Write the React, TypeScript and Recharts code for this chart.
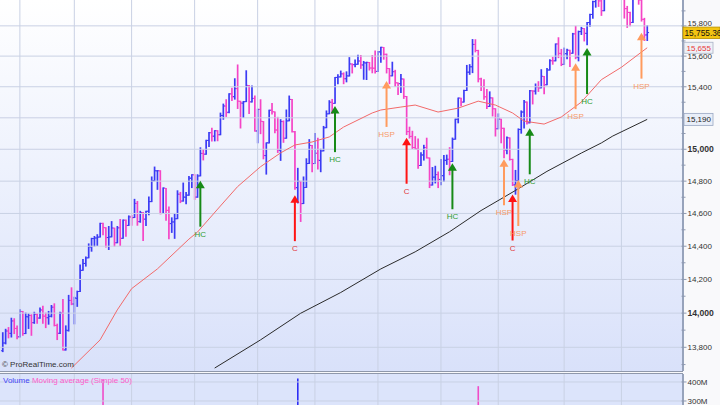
import React from 'react';
import { ComposedChart, Bar, Line, XAxis, YAxis, ReferenceLine, ReferenceDot } from 'recharts';

const FONT = '"Liberation Sans", Arial, Helvetica, sans-serif';
const BLUE = '#3b3bf4';
const PINK = '#f544c6';
const GRID = '#c9d1e4';

// Daily OHLC bars [open, high, low, close], Jan 24 – Dec 13
const JAN = [
  [13780, 13885, 13775, 13825], [13825, 13905, 13820, 13895], [13895, 13915, 13855, 13882],
  [13881, 13970, 13860, 13954], [13954, 13967, 13880, 13910], [13910, 13925, 13850, 13861],
];
const FEB = [
  [13861, 14020, 13860, 14010], [14009, 14010, 13870, 13880], [13880, 14000, 13880, 13979],
  [13978, 13995, 13910, 13986], [13986, 13990, 13870, 13944], [13944, 14005, 13940, 13993],
  [13992, 13995, 13940, 13971], [13971, 14030, 13970, 14019], [14018, 14040, 13940, 13982],
  [13982, 14000, 13915, 13973], [13973, 14010, 13935, 13981], [13982, 14045, 13978, 14035],
  [14035, 14055, 13925, 13928], [13927, 13935, 13845, 13881], [13882, 14005, 13880, 14000],
  [14001, 14080, 13784, 13784], [13785, 13925, 13784, 13900], [13897, 14105, 13895, 14075],
  [14075, 14150, 14050, 14054],
];
const MAR = [
  [14054, 14094, 13937, 14090], [14087, 14130, 14040, 14128], [14128, 14286, 14128, 14254],
  [14255, 14320, 14255, 14296], [14296, 14335, 14280, 14329], [14330, 14414, 14330, 14397],
  [14395, 14448, 14370, 14447], [14446, 14459, 14400, 14450], [14450, 14470, 14405, 14455],
  [14456, 14540, 14456, 14539], [14539, 14540, 14470, 14514], [14512, 14513, 14395, 14452],
  [14453, 14520, 14380, 14456], [14457, 14550, 14457, 14511], [14510, 14510, 14400, 14421],
  [14421, 14520, 14421, 14512], [14512, 14563, 14405, 14448], [14448, 14560, 14448, 14559],
  [14558, 14560, 14460, 14526], [14527, 14585, 14527, 14579],
];
const APR = [
  [14578, 14588, 14528, 14573], [14575, 14687, 14575, 14662], [14662, 14674, 14528, 14550],
  [14550, 14613, 14546, 14606], [14604, 14606, 14434, 14565], [14565, 14614, 14526, 14613],
  [14614, 14701, 14592, 14673], [14673, 14826, 14673, 14802], [14803, 14888, 14802, 14865],
  [14864, 14866, 14749, 14865], [14864, 14865, 14598, 14599], [14600, 14758, 14600, 14757],
  [14755, 14755, 14559, 14619], [14619, 14640, 14445, 14537], [14538, 14573, 14484, 14548],
  [14548, 14600, 14448, 14567], [14568, 14740, 14568, 14719], [14718, 14730, 14667, 14676],
  [14677, 14788, 14676, 14701], [14700, 14730, 14660, 14713], [14713, 14829, 14713, 14819],
  [14818, 14840, 14760, 14840],
];
const MAY = [
  [14839, 14840, 14687, 14701], [14701, 14840, 14700, 14832], [14833, 15009, 14833, 14974],
  [14973, 14996, 14933, 14969], [14969, 15057, 14969, 15056], [15056, 15106, 15017, 15105],
  [15105, 15134, 15052, 15083], [15083, 15118, 15053, 15118], [15117, 15118, 15054, 15092],
  [15092, 15230, 15092, 15215], [15215, 15288, 15191, 15276], [15275, 15316, 15209, 15233],
  [15236, 15355, 15233, 15354], [15354, 15391, 15311, 15335], [15336, 15452, 15320, 15388],
  [15388, 15542, 15260, 15307], [15306, 15306, 15135, 15295], [15294, 15305, 15202, 15303],
  [15304, 15504, 15304, 15409], [15408, 15408, 15227, 15303], [15302, 15405, 15302, 15325],
  [15324, 15340, 15115, 15116],
];
const JUN = [
  [15116, 15255, 15041, 15254], [15253, 15316, 15099, 15178], [15176, 15176, 14940, 14961],
  [14960, 15040, 14844, 15041], [15040, 15249, 15040, 15248], [15250, 15292, 15225, 15239],
  [15238, 15238, 15104, 15122], [15122, 15203, 14980, 14995], [14994, 15188, 14930, 15176],
  [15176, 15180, 15044, 15070], [15070, 15250, 15070, 15180], [15181, 15340, 15181, 15318],
  [15318, 15318, 15110, 15112], [15110, 15112, 14750, 14758], [14760, 14880, 14665, 14799],
  [14797, 14799, 14551, 14660], [14661, 14826, 14661, 14760], [14761, 14940, 14761, 14910],
  [14911, 15061, 14911, 15024], [15024, 15024, 14859, 14910],
];
const JUL = [
  [14910, 15100, 14910, 14975], [14974, 15069, 14876, 14932], [14929, 15000, 14859, 14989],
  [14990, 15145, 14990, 15136], [15137, 15244, 15137, 15225], [15226, 15310, 15226, 15300],
  [15300, 15318, 15228, 15292], [15293, 15461, 15293, 15461], [15460, 15478, 15420, 15464],
  [15464, 15502, 15464, 15484], [15484, 15490, 15420, 15452], [15452, 15497, 15432, 15471],
  [15470, 15590, 15470, 15549], [15548, 15549, 15490, 15544], [15544, 15575, 15531, 15546],
  [15547, 15605, 15546, 15568], [15568, 15604, 15520, 15542], [15542, 15565, 15449, 15556],
  [15555, 15560, 15447, 15559], [15558, 15558, 15509, 15522], [15522, 15604, 15491, 15521],
  [15521, 15634, 15490, 15500],
];
const AUG = [
  [15500, 15630, 15500, 15628], [15628, 15658, 15560, 15658], [15657, 15657, 15580, 15612],
  [15612, 15613, 15490, 15519], [15518, 15518, 15420, 15471], [15471, 15560, 15471, 15498],
  [15498, 15507, 15403, 15426], [15425, 15425, 15350, 15420], [15420, 15480, 15363, 15451],
  [15450, 15450, 15325, 15338], [15337, 15337, 15093, 15112], [15112, 15140, 15071, 15081],
  [15082, 15114, 15005, 15011], [15011, 15080, 15002, 15003], [15001, 15065, 14880, 14898],
  [14898, 14978, 14898, 14964], [14964, 15025, 14932, 15011], [15011, 15070, 14945, 14946],
  [14945, 14945, 14760, 14776], [14776, 14885, 14776, 14825], [14825, 14893, 14789, 14841],
  [14841, 14857, 14760, 14810],
];
const SEP = [
  [14811, 14935, 14777, 14834], [14834, 14960, 14800, 14931], [14930, 14963, 14905, 14937],
  [14937, 15010, 14840, 14923], [14923, 15071, 14923, 15063], [15064, 15192, 15064, 15191],
  [15191, 15327, 15168, 15327], [15326, 15326, 15277, 15301], [15301, 15377, 15301, 15376],
  [15376, 15539, 15376, 15495], [15495, 15544, 15481, 15530], [15530, 15709, 15492, 15677],
  [15677, 15708, 15628, 15637], [15637, 15638, 15432, 15451], [15451, 15455, 15375, 15401],
  [15402, 15445, 15319, 15335], [15335, 15383, 15260, 15273], [15273, 15367, 15273, 15328],
  [15328, 15328, 15212, 15258], [15258, 15258, 15084, 15130],
];
const OCT = [
  [15130, 15225, 15130, 15192], [15191, 15191, 15041, 15133], [15133, 15134, 14946, 14996],
  [14996, 15078, 14972, 15073], [15072, 15072, 14932, 14936], [14936, 14937, 14773, 14777],
  [14777, 14867, 14719, 14803], [14803, 15129, 14803, 15126], [15125, 15244, 15102, 15237],
  [15237, 15311, 15135, 15301], [15301, 15301, 15160, 15168], [15168, 15376, 15168, 15374],
  [15374, 15374, 15289, 15372], [15372, 15418, 15353, 15400], [15399, 15433, 15370, 15392],
  [15393, 15511, 15393, 15468], [15467, 15467, 15354, 15413], [15413, 15519, 15413, 15509],
  [15509, 15576, 15509, 15570], [15570, 15592, 15547, 15569], [15569, 15680, 15569, 15680],
  [15680, 15721, 15590, 15618], [15618, 15644, 15538, 15546],
];
const NOV = [
  [15546, 15653, 15546, 15616], [15616, 15645, 15582, 15639], [15638, 15638, 15532, 15619],
  [15619, 15750, 15619, 15747], [15747, 15797, 15583, 15594], [15594, 15765, 15569, 15762],
  [15762, 15790, 15743, 15783], [15782, 15782, 15700, 15751], [15750, 15822, 15675, 15822],
  [15822, 15877, 15798, 15876], [15876, 15965, 15851, 15962], [15962, 16030, 15925, 15976],
  [15976, 16005, 15930, 15967], [15967, 16050, 15870, 15901], [15901, 16015, 15901, 16010],
  [16010, 16065, 15990, 16065], [16065, 16111, 16060, 16073], [16073, 16107, 16050, 16073],
  [16073, 16108, 16060, 16097], [16097, 16174, 16080, 16086],
];
const DEC = [
  [16086, 16098, 15990, 16009], [16009, 16010, 15852, 15915], [15915, 15930, 15790, 15890],
  [15889, 15890, 15800, 15822], [15823, 16021, 15823, 16020], [16020, 16056, 16020, 16026],
  [16024, 16026, 15945, 15973], [15973, 15999, 15832, 15844], [15843, 15850, 15703, 15739],
  [15740, 15801, 15703, 15755.36],
];

// First trading day of each month (bar index) – vertical grid lines
const MONTH_STARTS = [6, 25, 45, 67, 89, 109, 131, 153, 173, 196, 216];
// Simple moving averages [bar index, value]
const MA50_PTS = [
  [24, 13680], [34, 13843], [40, 14019], [45, 14145], [54, 14263], [65, 14443], [68, 14486],
  [76, 14646], [82, 14766], [90, 14890], [97, 14977], [102, 15027], [108, 15046], [114, 15078],
  [119, 15141], [129, 15231], [132, 15250], [139, 15269], [144, 15282], [152, 15237], [159, 15262],
  [166, 15307], [172, 15282], [178, 15231], [182, 15179], [189, 15160], [195, 15205], [202, 15301],
  [209, 15446], [216, 15527], [225, 15655],
];
const MA200_PTS = [
  [74, 13680], [90, 13843], [104, 13999], [118, 14122], [132, 14263], [144, 14366], [156, 14488],
  [167, 14618], [179, 14742], [190, 14861], [202, 14976], [209, 15040], [213, 15084], [225, 15190],
];
// Signal arrows
const ARROWS = [
  { i: 69, p: 14803, k: 'HC' }, { i: 102, p: 14713, k: 'C' }, { i: 116, p: 15275, k: 'HC' },
  { i: 134, p: 15438, k: 'HSP' }, { i: 141, p: 15073, k: 'C' }, { i: 157, p: 14912, k: 'HC' },
  { i: 175, p: 14937, k: 'HSP' }, { i: 178, p: 14717, k: 'C' }, { i: 180, p: 14807, k: 'HSP' },
  { i: 184, p: 15133, k: 'HC' }, { i: 200, p: 15554, k: 'HSP' }, { i: 204, p: 15653, k: 'HC' },
  { i: 223, p: 15755, k: 'HSP' },
];
// Visible tops of volume bars [bar index, volume]
const VOLUME_PTS = [[35, 413e6], [103, 418e6], [166, 378e6]];

const PRICE_GRID = [13800, 14000, 14200, 14400, 14600, 14800, 15000, 15200, 15400, 15600, 15800];
const PRICE_TICKS = [13700, 13800, 13900, 14000, 14100, 14200, 14300, 14400, 14500, 14600, 14700,
  14800, 14900, 15000, 15100, 15200, 15300, 15400, 15500, 15600, 15700, 15800, 15900];
const VOL_TICKS = [300e6, 400e6];
const SLOTS = 238;

const BARS = [...JAN, ...FEB, ...MAR, ...APR, ...MAY, ...JUN, ...JUL, ...AUG, ...SEP, ...OCT, ...NOV, ...DEC];
const LAST_PRICE = BARS[BARS.length - 1][3];
const MA50_LAST = MA50_PTS[MA50_PTS.length - 1][1];
const MA200_LAST = MA200_PTS[MA200_PTS.length - 1][1];

const ma50Map = new Map(MA50_PTS.map((d) => [d[0], d[1]]));
const ma200Map = new Map(MA200_PTS.map((d) => [d[0], d[1]]));
const volMap = new Map(VOLUME_PTS.map((d) => [d[0], d[1]]));

const rows = Array.from({ length: SLOTS }, (_, i) => {
  const b = BARS[i];
  return {
    i,
    hl: b ? [b[2], b[1]] : null,
    o: b ? b[0] : null,
    h: b ? b[1] : null,
    l: b ? b[2] : null,
    c: b ? b[3] : null,
    ma50: ma50Map.has(i) ? ma50Map.get(i) : null,
    ma200: ma200Map.has(i) ? ma200Map.get(i) : null,
    vol: volMap.has(i) ? volMap.get(i) : null,
  };
});

const fmt = (v: number) => v.toLocaleString('en-US');

const OhlcShape = (props: any) => {
  const { x, y, width, height, payload } = props;
  if (!payload || payload.h == null || x == null || y == null) return <g />;
  const top = Math.min(y, y + height);
  const bot = Math.max(y, y + height);
  const lh = Math.log(payload.h);
  const ll = Math.log(payload.l);
  const span = lh - ll || 1;
  const py = (v: number) => top + ((bot - top) * (lh - Math.log(v))) / span;
  const cx = x + width / 2;
  const col = payload.c >= payload.o ? BLUE : PINK;
  const yo = py(payload.o);
  const yc = py(payload.c);
  return (
    <g>
      <line x1={cx} x2={cx} y1={top - 0.5} y2={bot + 0.5} stroke={col} strokeWidth={1.7} />
      <line x1={cx - 1.8} x2={cx} y1={yo} y2={yo} stroke={col} strokeWidth={1} />
      <line x1={cx} x2={cx + 1.8} y1={yc} y2={yc} stroke={col} strokeWidth={1} />
    </g>
  );
};

const VolShape = (props: any) => {
  const { x, y, width, height, payload } = props;
  if (!payload || payload.vol == null) return <g />;
  const cx = x + width / 2;
  const col = payload.c >= payload.o ? '#2d2df5' : '#f04cc8';
  return <line x1={cx} x2={cx} y1={y} y2={y + height} stroke={col} strokeWidth={1.6} />;
};

const ARROW_STYLE: Record<string, { a: string; t: string }> = {
  HC: { a: '#178a17', t: '#2f9c2f' },
  C: { a: '#ff1414', t: '#e23a3a' },
  HSP: { a: '#ff9b5e', t: '#f79a68' },
};

const makeArrow = (k: string) => (p: any) => {
  const { cx, cy } = p;
  if (cx == null || cy == null) return <g />;
  const s = ARROW_STYLE[k];
  return (
    <g>
      <line x1={cx} x2={cx} y1={cy + 6} y2={cy + 46} stroke={s.a} strokeWidth={2} />
      <polygon points={`${cx},${cy} ${cx - 4.5},${cy + 7.5} ${cx + 4.5},${cy + 7.5}`} fill={s.a} />
      <text x={cx} y={cy + 56} textAnchor="middle" fontSize={8} fill={s.t} fontFamily={FONT}>
        {k}
      </text>
    </g>
  );
};

const PriceTick = (props: any) => {
  const { x, y, payload } = props;
  const v = payload.value;
  const ax = x;
  if (v === LAST_PRICE) {
    return (
      <g>
        <rect x={ax} y={y - 5.5} width={37} height={11.5} fill="#f3c412" stroke="#b59000" strokeWidth={0.8} />
        <text x={ax + 1.5} y={y + 3} fontSize={8.3} fill="#111" fontFamily={FONT}>{fmt(v)}</text>
      </g>
    );
  }
  if (v === MA50_LAST) {
    return (
      <g>
        <rect x={ax + 1} y={y - 5.5} width={29} height={11} fill="#eef1f7" stroke="#a9b2c6" strokeWidth={0.8} />
        <text x={ax + 3.5} y={y + 3} fontSize={8} fill="#e83a3a" fontFamily={FONT}>{fmt(v)}</text>
      </g>
    );
  }
  if (v === MA200_LAST) {
    return (
      <g>
        <rect x={ax + 1} y={y - 6} width={29} height={12} fill="#e9eef8" stroke="#99a7c2" strokeWidth={0.8} />
        <text x={ax + 3.5} y={y + 3} fontSize={8} fill="#222" fontFamily={FONT}>{fmt(v)}</text>
      </g>
    );
  }
  const major = v % 200 === 0;
  const bold = v % 1000 === 0;
  // keep the label clear of the last-price box just below it
  const lift = v > LAST_PRICE && v - LAST_PRICE < 60 ? -2.5 : 0;
  return (
    <g>
      <line x1={ax - 1.5} x2={ax + (major ? 3.5 : 2.5)} y1={y} y2={y} stroke="#8e99b0" strokeWidth={1} />
      {major && v !== 15200 && (
        <text x={ax + 4.5} y={y + 3 + lift} fontSize={bold ? 8.6 : 8} fontWeight={bold ? 'bold' : 'normal'} fill="#333" fontFamily={FONT}>
          {fmt(v)}
        </text>
      )}
    </g>
  );
};

const VolTick = (props: any) => {
  const { x, y, payload } = props;
  return (
    <g>
      <line x1={x - 1.5} x2={x + 3.5} y1={y} y2={y} stroke="#8e99b0" strokeWidth={1} />
      <text x={x + 4.5} y={y + 3} fontSize={8} fill="#333" fontFamily={FONT}>{`${payload.value / 1e6}M`}</text>
    </g>
  );
};

export default function App() {
  return (
    <div style={{ position: 'absolute', left: 0, top: 0, width: 720, height: 405, overflow: 'hidden', background: '#f9f9fb', fontFamily: FONT }}>
      <div style={{ position: 'absolute', left: 0, top: 0, width: 683, height: 371, background: 'linear-gradient(to bottom, #ffffff 0%, #eef2fd 45%, #d9e1fa 100%)' }} />
      <div style={{ position: 'absolute', left: 0, top: 371, width: 683, height: 1, background: '#8f98ab' }} />
      <div style={{ position: 'absolute', left: 0, top: 373, width: 683, height: 32, background: '#dce4fb', borderTop: '1px solid #8f98ab' }} />
      <div style={{ position: 'absolute', left: 0, top: 0 }}>
        <ComposedChart width={720} height={371} data={rows} margin={{ top: 0, right: 0, bottom: 0, left: 0 }} barCategoryGap={0}>
          <XAxis dataKey="i" type="category" hide padding={{ left: 1.27, right: 0 }} />
          <YAxis
            orientation="right"
            width={37}
            scale="log"
            domain={[13663, 15973]}
            allowDataOverflow
            ticks={[...PRICE_TICKS, MA200_LAST, MA50_LAST, LAST_PRICE]}
            interval={0}
            tick={<PriceTick />}
            tickLine={false}
            tickSize={0}
            tickMargin={0}
            axisLine={{ stroke: '#97a3bb', strokeWidth: 2 }}
          />
          {PRICE_GRID.map((v) => (
            <ReferenceLine key={`h${v}`} y={v} stroke={GRID} strokeWidth={1} />
          ))}
          {MONTH_STARTS.map((m) => (
            <ReferenceLine key={`v${m}`} x={m} stroke={GRID} strokeWidth={1} />
          ))}
          <Bar dataKey="hl" shape={<OhlcShape />} isAnimationActive={false} />
          <Line dataKey="ma50" stroke="#f26a6a" strokeWidth={1} dot={false} connectNulls isAnimationActive={false} />
          <Line dataKey="ma200" stroke="#2a2a2a" strokeWidth={1} dot={false} connectNulls isAnimationActive={false} />
          {ARROWS.map((a) => (
            <ReferenceDot key={`a${a.i}`} x={a.i} y={a.p} r={0} ifOverflow="visible" shape={makeArrow(a.k)} />
          ))}
        </ComposedChart>
      </div>
      <div style={{ position: 'absolute', left: 0, top: 374 }}>
        <ComposedChart width={720} height={84} data={rows} margin={{ top: 0, right: 0, bottom: 0, left: 0 }} barCategoryGap={0}>
          <XAxis dataKey="i" type="category" hide padding={{ left: 1.27, right: 0 }} />
          <YAxis
            orientation="right"
            width={37}
            domain={[0, 442e6]}
            allowDataOverflow
            ticks={VOL_TICKS}
            interval={0}
            tick={<VolTick />}
            tickLine={false}
            tickSize={0}
            tickMargin={0}
            axisLine={{ stroke: '#97a3bb', strokeWidth: 2 }}
          />
          {VOL_TICKS.map((v) => (
            <ReferenceLine key={`vh${v}`} y={v} stroke={GRID} strokeWidth={1} />
          ))}
          {MONTH_STARTS.map((m) => (
            <ReferenceLine key={`vv${m}`} x={m} stroke={GRID} strokeWidth={1} />
          ))}
          <Bar dataKey="vol" shape={<VolShape />} isAnimationActive={false} />
        </ComposedChart>
      </div>
      <div style={{ position: 'absolute', left: 2, top: 360, fontSize: 8, color: '#333', whiteSpace: 'nowrap' }}>© ProRealTime.com</div>
      <div style={{ position: 'absolute', left: 3, top: 376, fontSize: 8, whiteSpace: 'nowrap' }}>
        <span style={{ color: '#4545f5' }}>Volume</span>{' '}
        <span style={{ color: '#ff5ccb' }}>Moving average (Simple 50)</span>
      </div>
    </div>
  );
}
